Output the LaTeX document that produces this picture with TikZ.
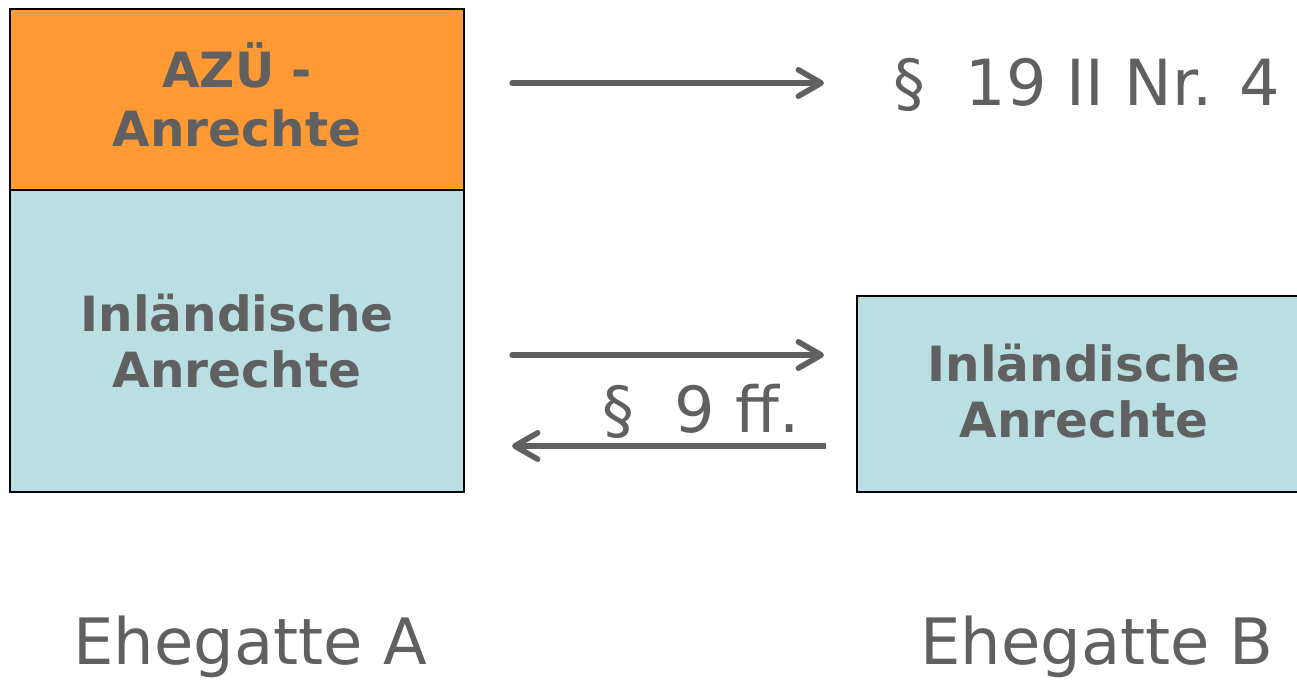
\documentclass[tikz,border=0pt]{standalone}
\usepackage{fontspec}
\setmainfont{DejaVu Sans}
\usetikzlibrary{arrows.meta}
\definecolor{orangebox}{HTML}{FF9933}
\definecolor{cyanbox}{HTML}{B9DFE2}
\definecolor{txtgray}{HTML}{606060}
\begin{document}
\begin{tikzpicture}[x=0.02cm,y=-0.02cm,
  box/.style={draw=black,line width=1.2pt,inner sep=0pt,outer sep=0pt},
  boldtxt/.style={text=txtgray,font=\fontsize{27.6}{32}\selectfont\bfseries,anchor=base,inner sep=0pt},
  normtxt/.style={text=txtgray,font=\fontsize{36.2}{42}\selectfont,anchor=base,inner sep=0pt},
  bigtxt/.style={text=txtgray,font=\fontsize{36.4}{42}\selectfont,anchor=base,inner sep=0pt},
  arr/.style={draw=txtgray,line width=3pt,line cap=round,-{Straight Barb[length=13pt,width=15pt,round,line width=3.2pt]}}]
\useasboundingbox (0,0) rectangle (1297,679);
\begin{scope}
\clip (0,0) rectangle (1297,679);
% left boxes
\node[box,fill=orangebox,minimum width=454*0.02cm,minimum height=181*0.02cm,anchor=north west] (azu) at (10,9) {};
\node[box,fill=cyanbox,minimum width=454*0.02cm,minimum height=302*0.02cm,anchor=north west] (inlA) at (10,190) {};
% right box
\node[box,fill=cyanbox,minimum width=454*0.02cm,minimum height=196*0.02cm,anchor=north west] (inlB) at (857,296) {};
\end{scope}
% texts in boxes
\node[boldtxt] (t1) at (237,88) {AZÜ -};
\node[boldtxt] (t2) at (237,146) {Anrechte};
\node[boldtxt] (t3) at (237,331) {Inländische};
\node[boldtxt] (t4) at (237,387) {Anrechte};
\node[boldtxt] (t5) at (1084,381) {Inländische};
\node[boldtxt] (t6) at (1084,437) {Anrechte};
% arrow coordinates
\coordinate (a1s) at (512,83);
\coordinate (a1e) at (824,83);
\coordinate (a2s) at (512,355);
\coordinate (a2e) at (824,355);
\coordinate (a3s) at (826,446);
\coordinate (a3e) at (512,446);
\draw[arr] (a1s) -- (a1e);
\draw[arr] (a2s) -- (a2e);
\draw[arr,line cap=butt] (a3s) -- (a3e);
% labels
\node[normtxt,anchor=base west] (p19) at (893,106) {§\ \ 19 II Nr. 4};
\node[normtxt,anchor=base east] (p9) at (800,432) {§\ \ 9 ff.};
\node[bigtxt] (ehA) at (250,664) {Ehegatte A};
\node[bigtxt] (ehB) at (1097,664) {Ehegatte B};
\end{tikzpicture}
\end{document}
